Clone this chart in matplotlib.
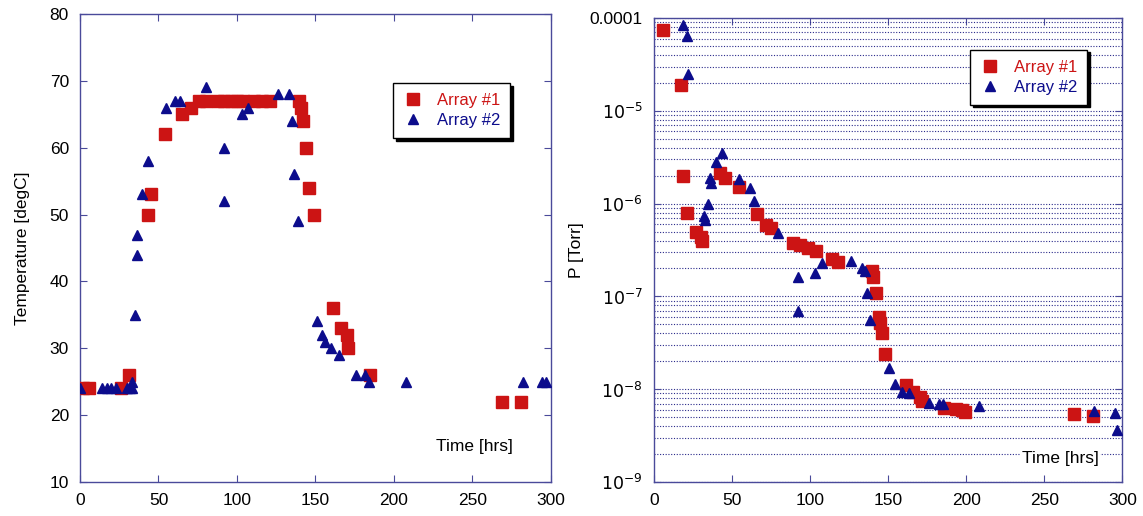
import numpy as np
import matplotlib
matplotlib.use("Agg")
import matplotlib.pyplot as plt
from matplotlib.ticker import FixedLocator, FixedFormatter, LogLocator, NullFormatter

plt.rcParams['font.family'] = ['Liberation Sans', 'DejaVu Sans']

# temperature vs time
t1_time = [2, 6, 26, 31, 43, 45, 54, 65, 71, 76, 80, 88, 92, 96, 100, 104, 111, 116, 121,
           139.5, 141, 142, 144, 146, 149, 161, 166, 170, 171, 185, 269, 281]
t1_temp = [24, 24, 24, 26, 50, 53, 62, 65, 66, 67, 67, 67, 67, 67, 67, 67, 67, 67, 67,
           67, 66, 64, 60, 54, 50, 36, 33, 32, 30, 26, 22, 22]
t2_time = [0, 14, 17, 20, 23, 30, 32, 33, 33, 35, 36, 36.5, 39.5, 43.5, 54.5, 60.5, 64, 80,
           92, 92, 103, 107, 126, 133, 135, 136.5, 139, 151, 154, 156, 160, 165, 176, 181.5,
           184, 207.5, 282, 294, 297]
t2_temp = [24, 24, 24, 24, 24, 24, 24, 25, 24, 35, 44, 47, 53, 58, 66, 67, 67, 69,
           60, 52, 65, 66, 68, 68, 64, 56, 49, 34, 32, 31, 30, 29, 26, 26,
           25, 25, 25, 25, 25]

# pressure vs time
p1_time = [5.6, 17.7, 18.8, 21, 27, 30.5, 31, 42.7, 45.5, 54.5, 65.8, 71.8, 74.8, 89.3, 93.6,
           99, 104, 114, 118, 140, 140.5, 142, 144, 145, 146, 148, 161.5, 166, 170.5, 171.5,
           186, 193.5, 197, 199, 269, 281]
p1_pres = [7.4e-5, 1.9e-5, 2.0e-6, 8e-7, 4.9e-7, 4.4e-7, 4.0e-7, 2.14e-6, 1.9e-6, 1.5e-6,
           7.8e-7, 5.9e-7, 5.5e-7, 3.8e-7, 3.6e-7, 3.3e-7, 3.1e-7, 2.5e-7, 2.35e-7, 1.9e-7,
           1.6e-7, 1.1e-7, 6e-8, 5.2e-8, 4e-8, 2.4e-8, 1.1e-8, 9.3e-9, 8.3e-9, 7.4e-9,
           6.3e-9, 6.1e-9, 5.9e-9, 5.7e-9, 5.4e-9, 5.1e-9]
p2_time = [18.8, 21, 22, 32, 33, 34.8, 36, 36.3, 40, 43.8, 54.7, 61.5, 64.3, 79.7, 92.5, 92.5,
           103, 107.5, 126, 133, 135, 136.7, 138.5, 150.5, 154.5, 159, 163.5, 176, 182.5,
           185, 208, 282, 295, 296.5]
p2_pres = [8.4e-5, 6.4e-5, 2.5e-5, 7.4e-7, 6.6e-7, 1.0e-6, 1.9e-6, 1.66e-6, 2.8e-6, 3.5e-6,
           1.86e-6, 1.48e-6, 1.07e-6, 4.8e-7, 1.6e-7, 7e-8, 1.8e-7, 2.3e-7, 2.4e-7, 2.0e-7,
           1.9e-7, 1.1e-7, 5.6e-8, 1.7e-8, 1.15e-8, 9.3e-9, 9e-9, 7.1e-9, 6.9e-9,
           6.9e-9, 6.6e-9, 5.8e-9, 5.6e-9, 3.6e-9]

red = '#cc1414'
blue = '#0c0c8c'
frame = '#4a4a9a'

fig = plt.figure(figsize=(11.43, 5.16), dpi=100)
ax1 = fig.add_axes([0.070, 0.066, 0.412, 0.907])
ax2 = fig.add_axes([0.572, 0.066, 0.410, 0.899])


def style(ax):
    for s in ax.spines.values():
        s.set_color(frame)
        s.set_linewidth(1.0)
    ax.tick_params(which='both', direction='in', top=True, right=True, color=frame,
                   labelsize=12.5, pad=8)
    ax.tick_params(which='major', length=5)
    ax.set_xlim(0, 300)
    ax.set_xticks([0, 50, 100, 150, 200, 250, 300])


def legend(ax, anchor):
    lg = ax.legend(loc='upper left', bbox_to_anchor=anchor, fontsize=12, frameon=True,
                   fancybox=False, shadow={'color': 'k', 'alpha': 1},
                   handletextpad=0.8, borderpad=0.6, labelspacing=0.3, handlelength=1.2)
    lg.get_frame().set_edgecolor('k')
    lg.get_frame().set_linewidth(1.0)
    lg.get_frame().set_alpha(1)
    for txt, c in zip(lg.get_texts(), [red, blue]):
        txt.set_color(c)


# left: temperature
ax1.plot(t1_time, t1_temp, 's', color=red, ms=8, mec=red, label='Array #1', zorder=3)
ax1.plot(t2_time, t2_temp, '^', color=blue, ms=6.5, mec=blue, label='Array #2', zorder=3)
style(ax1)
ax1.set_ylim(10, 80)
ax1.set_yticks(range(10, 81, 10))
ax1.set_ylabel('Temperature [degC]', fontsize=12.5, labelpad=14)
ax1.text(0.92, 0.075, 'Time [hrs]', transform=ax1.transAxes, ha='right', va='center',
         fontsize=12.5)
legend(ax1, (0.648, 0.87))

# right: pressure
ax2.semilogy(p1_time, p1_pres, 's', color=red, ms=8, mec=red, label='Array #1', zorder=3)
ax2.semilogy(p2_time, p2_pres, '^', color=blue, ms=6.5, mec=blue, label='Array #2', zorder=3)
style(ax2)
ax2.set_ylim(1e-9, 1e-4)
ax2.yaxis.set_major_locator(FixedLocator([1e-9, 1e-8, 1e-7, 1e-6, 1e-5, 1e-4]))
ax2.yaxis.set_major_formatter(FixedFormatter(['$10^{-9}$', '$10^{-8}$', '$10^{-7}$',
                                              '$10^{-6}$', '$10^{-5}$', '0.0001']))
ax2.yaxis.set_minor_locator(LogLocator(base=10, subs=np.arange(2, 10)))
ax2.yaxis.set_minor_formatter(NullFormatter())
ax2.tick_params(axis='y', which='minor', length=0)
ax2.grid(True, which='both', axis='y', linestyle=(0, (1, 1.5)), color='#2a2a8a',
         linewidth=0.8)
ax2.set_ylabel('P [Torr]', fontsize=12.5, labelpad=4)
ax2.text(0.95, 0.05, 'Time [hrs]', transform=ax2.transAxes, ha='right', va='center',
         fontsize=12.5, bbox=dict(facecolor='white', edgecolor='none', pad=1))
legend(ax2, (0.658, 0.95))

fig.savefig('out.png', dpi=100)
